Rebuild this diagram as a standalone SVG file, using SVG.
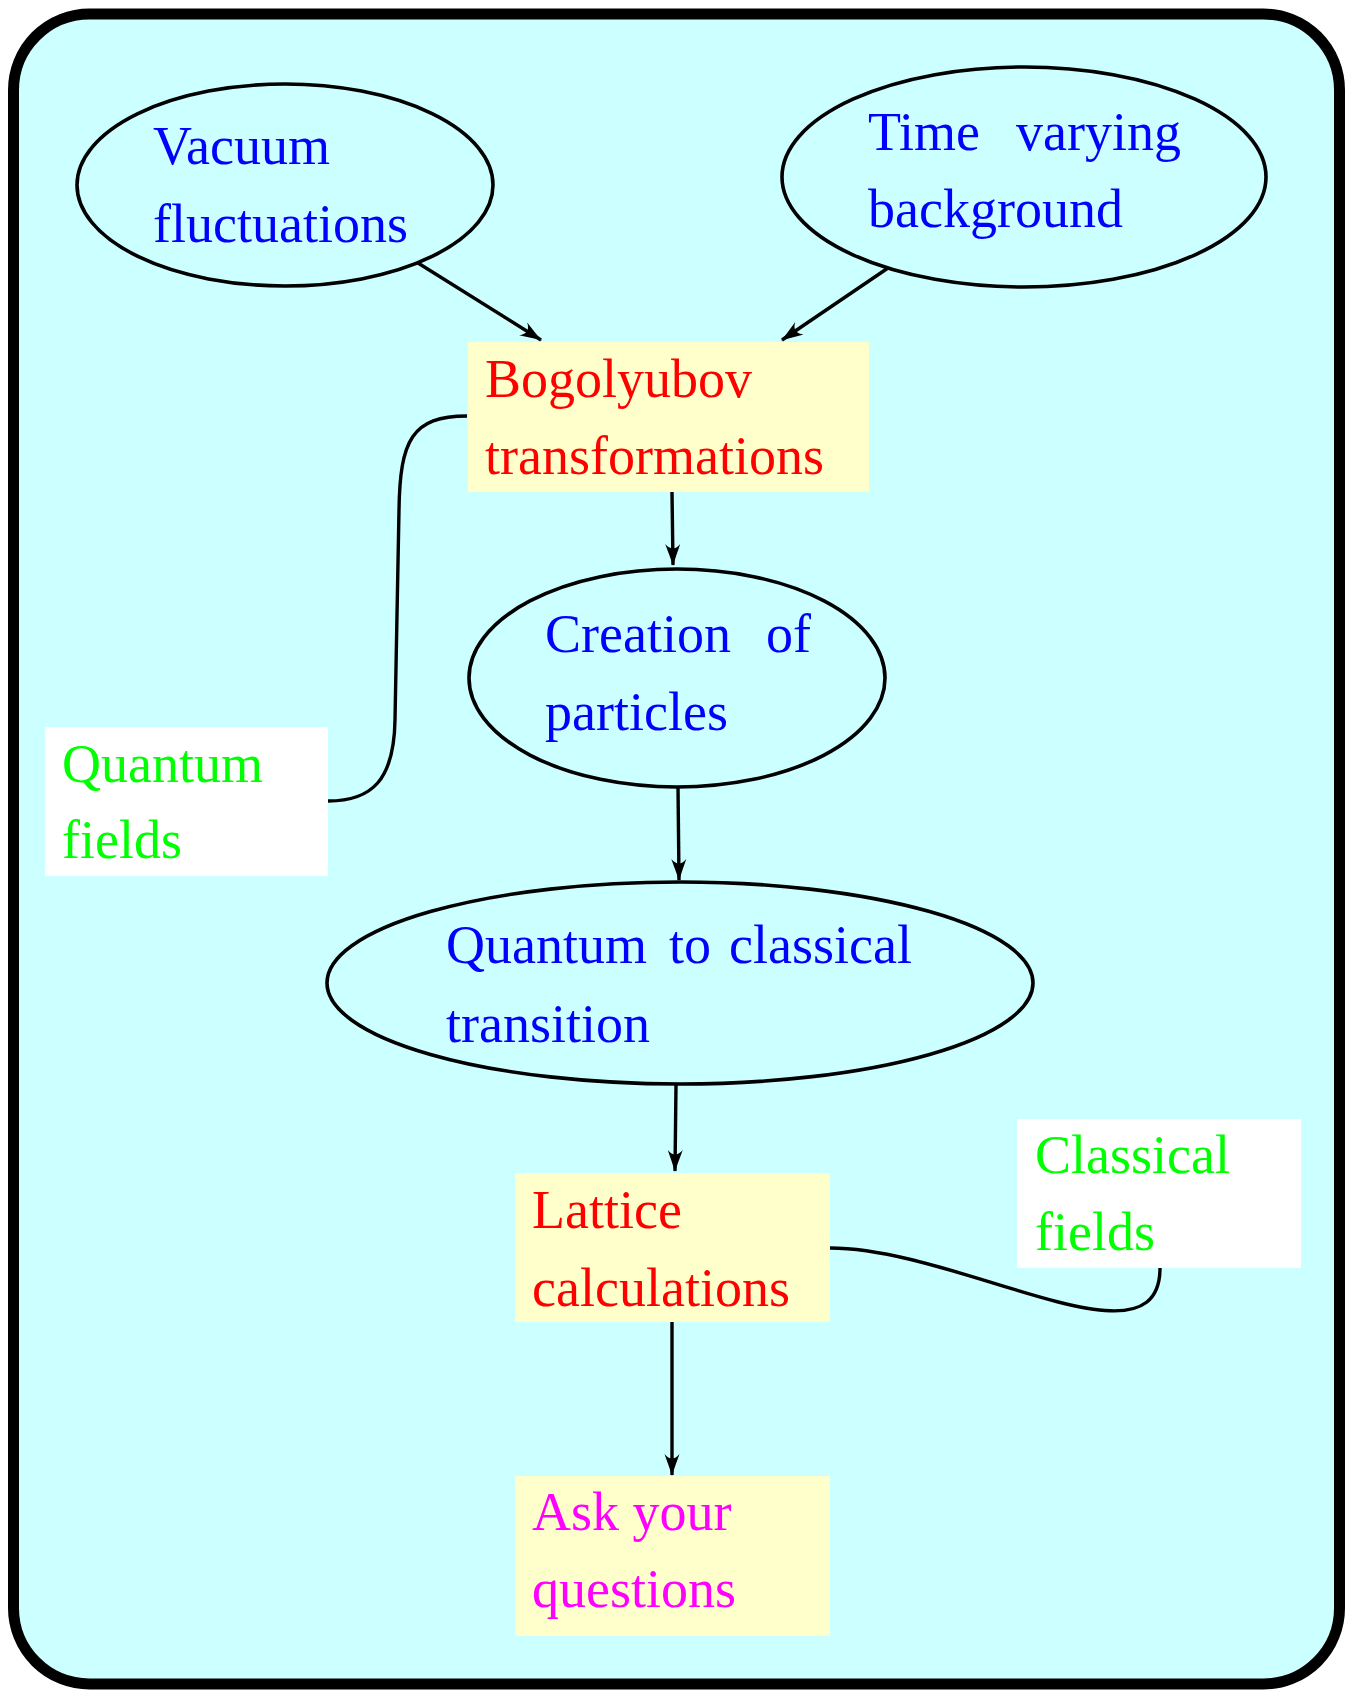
<svg xmlns="http://www.w3.org/2000/svg" width="1347" height="1690" viewBox="0 0 1347 1690">
<style>
.t{font-family:"Liberation Serif","Times New Roman",serif;font-size:54px}
.blue{fill:#0000FF}.red{fill:#FF0000}.green{fill:#00FF00}.mag{fill:#FF00FF}
.ell{fill:none;stroke:#000;stroke-width:3.6}
.yel{fill:#FFFFCC}.wht{fill:#FFFFFF}
.con{fill:none;stroke:#000;stroke-width:3.4}
</style>
<defs>
<marker id="ah" markerUnits="userSpaceOnUse" markerWidth="30" markerHeight="20" viewBox="-22 -10 24 20" refX="0" refY="0" orient="auto">
<path d="M1,0 C-6,-2 -14,-5 -21,-7.5 C-15,-2.5 -15,2.5 -21,7.5 C-14,5 -6,2 1,0 Z" fill="#000"/>
</marker>
</defs>
<rect x="13.5" y="14" width="1326" height="1670" rx="76" ry="76" fill="#CCFFFF" stroke="#000" stroke-width="11"/>
<g id="connectors">
<line class="con" x1="418" y1="263" x2="541" y2="340" marker-end="url(#ah)"/>
<line class="con" x1="888" y1="268" x2="782" y2="340" marker-end="url(#ah)"/>
<line class="con" x1="672" y1="492" x2="673" y2="565" marker-end="url(#ah)"/>
<line class="con" x1="678" y1="787" x2="679" y2="880" marker-end="url(#ah)"/>
<line class="con" x1="676" y1="1085" x2="675" y2="1171" marker-end="url(#ah)"/>
<line class="con" x1="672" y1="1322" x2="672" y2="1475" marker-end="url(#ah)"/>
<path class="con" d="M467,416 C412,416 400,440 399,510 L395,720 C394,780 372,801 328,801"/>
<path class="con" d="M830,1248 C960,1248 1160,1375 1160,1268"/>
</g>
<g id="vacuum">
<ellipse class="ell" cx="285" cy="185" rx="208" ry="101"/>
<text class="t blue" x="153" y="164">Vacuum</text>
<text class="t blue" x="153" y="242">fluctuations</text>
</g>
<g id="timevarying">
<ellipse class="ell" cx="1024" cy="177" rx="242" ry="110"/>
<text class="t blue" x="868" y="150">Time</text>
<text class="t blue" x="1016" y="150">varying</text>
<text class="t blue" x="868" y="227">background</text>
</g>
<g id="bogolyubov">
<rect class="yel" x="468" y="342" width="401" height="150"/>
<text class="t red" x="485" y="397">Bogolyubov</text>
<text class="t red" x="485" y="474">transformations</text>
</g>
<g id="quantumfields">
<rect class="wht" x="45" y="727" width="283" height="149"/>
<text class="t green" x="62" y="782">Quantum</text>
<text class="t green" x="62" y="858">fields</text>
</g>
<g id="creation">
<ellipse class="ell" cx="677" cy="678" rx="208" ry="109"/>
<text class="t blue" x="545" y="652">Creation</text>
<text class="t blue" x="766" y="652">of</text>
<text class="t blue" x="545" y="730">particles</text>
</g>
<g id="q2c">
<ellipse class="ell" cx="680" cy="983" rx="353" ry="101"/>
<text class="t blue" x="446" y="963">Quantum</text>
<text class="t blue" x="669" y="963">to</text>
<text class="t blue" x="729" y="963">classical</text>
<text class="t blue" x="446" y="1042">transition</text>
</g>
<g id="lattice">
<rect class="yel" x="515" y="1173" width="315" height="149"/>
<text class="t red" x="532" y="1228">Lattice</text>
<text class="t red" x="532" y="1306">calculations</text>
</g>
<g id="classicalfields">
<rect class="wht" x="1017" y="1119" width="284" height="149"/>
<text class="t green" x="1035" y="1173">Classical</text>
<text class="t green" x="1035" y="1250">fields</text>
</g>
<g id="ask">
<rect class="yel" x="515" y="1476" width="315" height="160"/>
<text class="t mag" x="532" y="1530">Ask your</text>
<text class="t mag" x="532" y="1607">questions</text>
</g>
</svg>
